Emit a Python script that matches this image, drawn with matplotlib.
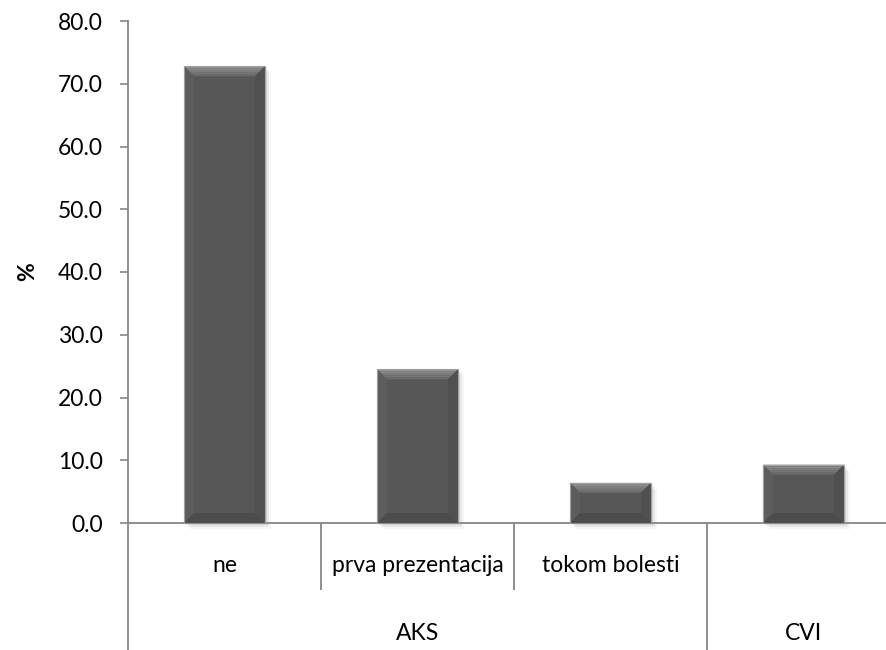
import matplotlib
matplotlib.use("Agg")
import matplotlib.pyplot as plt
from matplotlib.patches import Polygon
import numpy as np

# Data
sub_labels = ["ne", "prva prezentacija", "tokom bolesti", ""]
group_labels = ["AKS", "CVI"]
group_sizes = [3, 1]
values = [72.8, 24.5, 6.4, 9.3]
y_ticks = [0, 10, 20, 30, 40, 50, 60, 70, 80]

plt.rcParams["font.family"] = ["Lato", "DejaVu Sans"]
FS = 16.5

W, H, DPI = 886, 650, 100
fig = plt.figure(figsize=(W / DPI, H / DPI), dpi=DPI)
ax_left, ax_bottom = 128 / W, (H - 523) / H
ax_w, ax_h = (900 - 128) / W, (523 - 21) / H
ax = fig.add_axes([ax_left, ax_bottom, ax_w, ax_h])

n = len(values)
x = np.arange(n) + 0.5
bar_w = 0.42
axis_col = "#868686"
bars = ax.bar(x, values, width=bar_w, color="#575757", zorder=3)

ax.set_xlim(0, n)
ax.set_ylim(0, 80)
ax.set_yticks(y_ticks)
ax.set_yticklabels([f"{v:.1f}" for v in y_ticks], fontsize=FS)
ax.set_xticks([])
ax.set_ylabel("%", fontsize=FS, fontweight="bold", labelpad=14)

for s in ["top", "right"]:
    ax.spines[s].set_visible(False)
for s in ["left", "bottom"]:
    ax.spines[s].set_color(axis_col)
    ax.spines[s].set_linewidth(1.3)
ax.tick_params(axis="y", direction="out", length=6, width=1.2, color=axis_col, pad=12)

# Bevel and shadow effects drawn in pixel units around each bar
inv = ax.transData.inverted()
def to_data(pts):
    return inv.transform(np.asarray(pts, dtype=float))

fig.canvas.draw()
for rect in bars:
    (x0, y0), (x1, y1) = ax.transData.transform(
        [(rect.get_x(), 0), (rect.get_x() + rect.get_width(), rect.get_height())])
    # soft shadow
    for k, a in enumerate([0.09, 0.06, 0.035]):
        d = 2 + 2 * k
        ax.add_patch(Polygon(to_data([(x0 + d, y0 - d), (x1 + d, y0 - d),
                                      (x1 + d, y1 - d), (x0 + d, y1 - d)]),
                             closed=True, facecolor="black", alpha=a, edgecolor="none",
                             zorder=2, clip_on=False))
    b = min(10, (y1 - y0) / 3)
    # top bevel: light gradient bands
    steps = 5
    for j in range(steps):
        t0, t1 = j / steps, (j + 1) / steps
        c = 0x92 - int((0x92 - 0x62) * t0)
        col = f"#{c:02x}{c:02x}{c:02x}"
        ax.add_patch(Polygon(to_data([(x0 + b * t0, y1 - b * t0), (x1 - b * t0, y1 - b * t0),
                                      (x1 - b * t1, y1 - b * t1), (x0 + b * t1, y1 - b * t1)]),
                             closed=True, facecolor=col, edgecolor="none", zorder=4))
    # side bevels
    ax.add_patch(Polygon(to_data([(x0, y0), (x0 + b, y0 + b), (x0 + b, y1 - b), (x0, y1)]),
                         closed=True, facecolor="#5d5d5d", edgecolor="none", zorder=4))
    ax.add_patch(Polygon(to_data([(x1, y0), (x1 - b, y0 + b), (x1 - b, y1 - b), (x1, y1)]),
                         closed=True, facecolor="#505050", edgecolor="none", zorder=4))
    # bottom bevel
    ax.add_patch(Polygon(to_data([(x0, y0), (x1, y0), (x1 - b, y0 + b), (x0 + b, y0 + b)]),
                         closed=True, facecolor="#4c4c4c", edgecolor="none", zorder=4))
    # outline
    ax.add_patch(Polygon(to_data([(x0, y0), (x1, y0), (x1, y1), (x0, y1)]),
                         closed=True, facecolor="none", edgecolor="#a0a0a0", linewidth=0.8,
                         zorder=5))

# Multi-level category axis
xt = ax.get_xaxis_transform()
def frac(py):
    return (523 - py) / (523 - 21)

sub_bottom = frac(590)
grp_bottom = frac(652)
for i, lab in enumerate(sub_labels):
    ax.text(x[i], frac(566), lab, transform=xt, ha="center", va="center",
            fontsize=FS, clip_on=False)

# boundaries between sub-categories and groups
edges = np.cumsum([0] + group_sizes)
for i in range(n + 1):
    is_group_edge = i in edges
    ax.plot([i, i], [0, grp_bottom if is_group_edge else sub_bottom], transform=xt,
            color=axis_col, linewidth=1.3, clip_on=False, solid_capstyle="butt")

for g, lab in enumerate(group_labels):
    cx = (edges[g] + edges[g + 1]) / 2
    ax.text(cx, frac(633), lab, transform=xt, ha="center", va="center",
            fontsize=FS, clip_on=False)

fig.savefig("out.png", dpi=DPI)
